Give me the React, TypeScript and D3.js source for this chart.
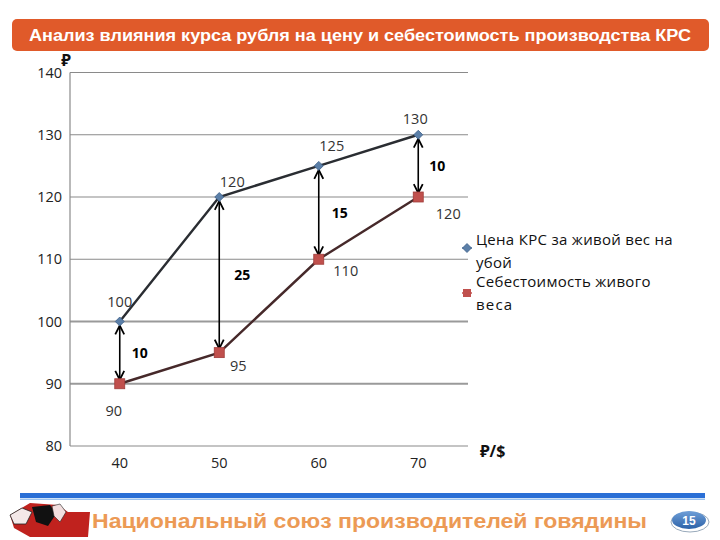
import React from "react";
import * as d3 from "d3";

const categories = ["40", "50", "60", "70"];
const priceValues = [100, 120, 125, 130];
const costValues = [90, 95, 110, 120];
const gapLabels = ["10", "25", "15", "10"];
const yTicks = [80, 90, 100, 110, 120, 130, 140];
const titleText = "Анализ влияния  курса рубля на цену и себестоимость производства КРС";
const footerText = "Национальный союз производителей говядины";
const legendPrice = ["Цена КРС за живой вес на", "убой"];
const legendCost = ["Себестоимость живого", "веса"];

const W = 720, H = 540;
const left = 70, right = 468, top = 72.5, bottom = 446;
const font = "'Open Sans', 'Noto Sans', sans-serif";

export default function App() {
  const x = d3.scaleBand<string>().domain(categories).range([left, right]);
  const cx = (c: string) => (x(c) as number) + x.bandwidth() / 2;
  const y = d3.scaleLinear().domain([80, 140]).range([bottom, top]);
  const line = d3.line<number>().x((_, i) => cx(categories[i])).y((v) => y(v));

  const priceLabelOff = [[0, -15], [13, -10], [13, -15], [-3, -11]];
  const costLabelOff = [[-6, 32], [19, 18], [27, 17], [30, 22]];
  const gapLabelOff = [[12, 0], [15, 0], [13, 0], [11, 0]];

  const diamond = (px: number, py: number) =>
    `M${px},${py - 4.5}L${px + 4.5},${py}L${px},${py + 4.5}L${px - 4.5},${py}Z`;

  return (
    <svg width={W} height={H} style={{ position: "absolute", left: 0, top: 0, background: "#fff" }}>
      <defs>
        <marker id="ah" viewBox="0 0 10 10" refX="9" refY="5" markerWidth="7" markerHeight="7" orient="auto-start-reverse">
          <path d="M1,1 L9,5 L1,9" fill="none" stroke="#000" strokeWidth="1.6" />
        </marker>
        <linearGradient id="badge" x1="0" y1="0" x2="0" y2="1">
          <stop offset="0" stopColor="#6f9fd8" />
          <stop offset="1" stopColor="#2c62a8" />
        </linearGradient>
      </defs>

      {/* Title banner */}
      <rect x={12} y={19} width={697} height={32} rx={5} fill="#e05a2a" />
      <text x={360} y={41} textAnchor="middle" fill="#fff" fontSize={16} fontWeight="bold"
        fontFamily="'Liberation Sans Narrow', 'Liberation Sans', Arial, sans-serif" textLength={662} lengthAdjust="spacingAndGlyphs">
        {titleText}
      </text>

      {/* gridlines */}
      {yTicks.filter((t) => t > 80).map((t) => (
        <line key={t} x1={left} x2={right} y1={y(t)} y2={y(t)}
          stroke={t === 100 || t === 90 ? "#9a9a9a" : "#8a8a8a"} strokeWidth={t === 100 || t === 90 ? 2 : 1.2} />
      ))}
      {/* axes */}
      <line x1={left} x2={left} y1={top} y2={bottom} stroke="#8a8a8a" strokeWidth={1.2} />
      <line x1={left} x2={right} y1={bottom} y2={bottom} stroke="#8a8a8a" strokeWidth={1.2} />

      {yTicks.map((t) => (
        <text key={t} x={62} y={y(t) + 5} textAnchor="end" fontSize={14.5} fill="#222" fontFamily={font}>{t}</text>
      ))}
      {categories.map((c) => (
        <text key={c} x={cx(c)} y={468} textAnchor="middle" fontSize={14.5} fill="#222" fontFamily={font}>{c}</text>
      ))}
      <text x={66} y={66} textAnchor="middle" fontSize={16} fontWeight="bold" fill="#111" fontFamily={font}>₽</text>
      <text x={480} y={457} fontSize={16} fontWeight="bold" fill="#111" fontFamily={font}>₽/$</text>

      {/* lines */}
      <path d={line(priceValues) as string} fill="none" stroke="#2a2d32" strokeWidth={2.4} />
      <path d={line(costValues) as string} fill="none" stroke="#46292a" strokeWidth={2.4} />

      {/* arrows */}
      {categories.map((c, i) => (
        <line key={c} x1={cx(c)} x2={cx(c)} y1={y(priceValues[i]) + 4} y2={y(costValues[i]) - 4}
          stroke="#000" strokeWidth={1.6} markerStart="url(#ah)" markerEnd="url(#ah)" />
      ))}
      {categories.map((c, i) => (
        <text key={c} x={cx(c) + gapLabelOff[i][0]}
          y={(y(priceValues[i]) + y(costValues[i])) / 2 + 5} fontSize={14} fontWeight="bold" fill="#000" fontFamily={font}>
          {gapLabels[i]}
        </text>
      ))}

      {/* markers */}
      {categories.map((c, i) => (
        <path key={c} d={diamond(cx(c), y(priceValues[i]))} fill="#5b7fa8" stroke="#3d5f88" strokeWidth={0.8} />
      ))}
      {categories.map((c, i) => (
        <rect key={c} x={cx(c) - 5} y={y(costValues[i]) - 5} width={10} height={10} fill="#c0504d" stroke="#a03c3a" strokeWidth={0.8} />
      ))}

      {/* data labels */}
      {categories.map((c, i) => (
        <text key={c} x={cx(c) + priceLabelOff[i][0]} y={y(priceValues[i]) + priceLabelOff[i][1]}
          textAnchor="middle" fontSize={14.5} fill="#333" fontFamily={font}>{priceValues[i]}</text>
      ))}
      {categories.map((c, i) => (
        <text key={c} x={cx(c) + costLabelOff[i][0]} y={y(costValues[i]) + costLabelOff[i][1]}
          textAnchor="middle" fontSize={14.5} fill="#333" fontFamily={font}>{costValues[i]}</text>
      ))}

      {/* legend */}
      <line x1={462} x2={472} y1={248} y2={248} stroke="#5b7fa8" strokeWidth={1.5} />
      <path d={diamond(467, 248)} fill="#5b7fa8" stroke="#3d5f88" strokeWidth={0.8} />
      <text fontSize={15} fill="#111" fontFamily={font} letterSpacing={0.3}>
        <tspan x={476} y={245}>{legendPrice[0]}</tspan>
        <tspan x={476} y={268}>{legendPrice[1]}</tspan>
      </text>
      <line x1={462} x2={472} y1={293} y2={293} stroke="#c0504d" strokeWidth={1.5} />
      <rect x={463} y={289} width={8} height={8} fill="#c0504d" />
      <text fontSize={15} fill="#111" fontFamily={font} letterSpacing={0.3}>
        <tspan x={476} y={287}>{legendCost[0]}</tspan>
        <tspan x={476} y={310} letterSpacing={1.2}>{legendCost[1]}</tspan>
      </text>

      {/* footer */}
      <rect x={20} y={493} width={685} height={5} fill="#2a6fd6" />
      <rect x={20} y={498.5} width={685} height={1.5} fill="#9cc3f0" />
      <g>
        <path d="M10,515 L30,503 L58,505 L68,512 L90,512 L88,537 L30,537 L14,528 Z" fill="#c0221e" />
        <path d="M10,515 L22,508 L32,512 L26,524 L14,524 Z" fill="#f4e8e8" stroke="#222" strokeWidth={0.8} />
        <path d="M32,507 L50,505 L56,514 L48,526 L36,522 Z" fill="#111" />
        <path d="M52,506 L60,504 L66,512 L60,522 L54,516 Z" fill="#f2dede" stroke="#222" strokeWidth={0.6} />
      </g>
      <text x={92} y={528} fontSize={21} fontWeight="bold" fill="#ec9a55"
        fontFamily="'Liberation Sans', Arial, sans-serif" textLength={555} lengthAdjust="spacingAndGlyphs">
        {footerText}
      </text>
      <ellipse cx={690} cy={522} rx={19} ry={10} fill="none" stroke="#9ab" strokeWidth={1} />
      <ellipse cx={689} cy={520} rx={17} ry={9} fill="url(#badge)" />
      <text x={689} y={525} textAnchor="middle" fontSize={12} fontWeight="bold" fill="#fff"
        fontFamily="'Liberation Sans', Arial, sans-serif">15</text>
    </svg>
  );
}
